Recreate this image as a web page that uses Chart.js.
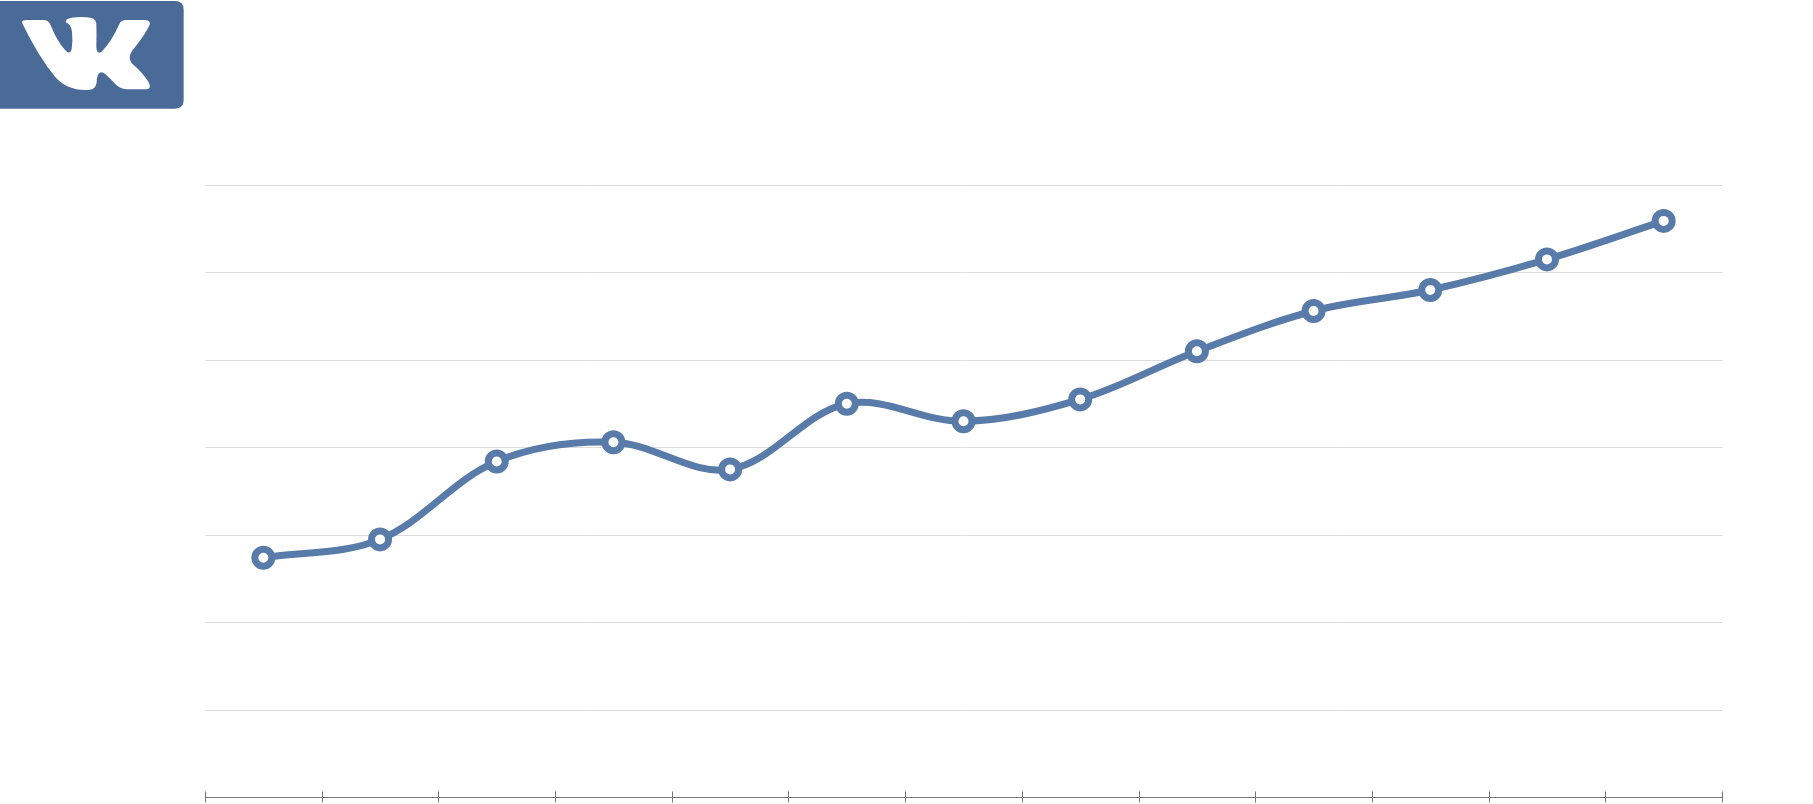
<!DOCTYPE html>
<html>
<head>
<meta charset="utf-8">
<style>
html, body { margin: 0; padding: 0; background: #fff; overflow: hidden; height: 804px; }
/* taller than the page: Chart.js keeps room at the bottom for the point size */
#wrap { position: absolute; left: 0; top: 0; width: 1813px; height: 813px; }
#logo { position: absolute; left: 0; top: 0; }
</style>
</head>
<body>
<div id="wrap"><canvas id="vk_chart"></canvas></div>
<svg id="logo" width="220" height="130" viewBox="0 0 660 390">
  <path fill="#4a6b98" d="M-30 3H525Q551 3 551 29V300Q551 326 525 326H-30Z"/>
  <path fill="#fff" d="M65 66Q68 60 80 60H130Q146 60 152 76Q170 122 195 150Q210 166 215 148Q219 125 216 95Q213 72 197 67Q195 57 215 53Q250 48 275 54Q288 58 289 72Q290 105 289 140Q290 165 305 155Q335 125 358 72Q363 60 378 60H435Q452 60 449 74Q435 105 398 150Q382 172 395 190Q425 215 445 245Q458 268 435 268H380Q358 268 340 246Q322 226 310 218Q295 212 291 235Q291 268 270 269Q205 275 165 230Q115 170 65 66Z"/>
</svg>
<script src="https://cdn.jsdelivr.net/npm/chart.js@4"></script>
<script>
const categories = ['1', '2', '3', '4', '5', '6', '7', '8', '9', '10', '11', '12', '13'];
const seriesValues = [27.4, 29.5, 38.4, 40.6, 37.5, 45, 43, 45.5, 51, 55.6, 58, 61.5, 65.9];

const lineBlue = '#587baa';

// x axis ticks cross the axis line, so they are drawn here
const crossTicks = {
    id: 'crossTicks',
    afterDatasetsDraw(chart) {
        const x = chart.scales.x;
        const y = chart.chartArea.bottom;
        const c = chart.ctx;
        const band = x.getPixelForValue(1) - x.getPixelForValue(0);
        c.save();
        c.strokeStyle = '#777';
        c.lineWidth = 1;
        c.beginPath();
        for (let i = 0; i <= categories.length; i++) {
            const px = Math.round(x.getPixelForValue(0) + band * (i - 0.5)) + 0.5;
            c.moveTo(px, y - 6);
            c.lineTo(px, y + 5);
        }
        c.stroke();
        c.restore();
    }
};

new Chart(document.getElementById('vk_chart'), {
    type: 'line',
    data: {
        labels: categories,
        datasets: [{
            data: seriesValues,
            borderColor: lineBlue,
            borderWidth: 7,
            tension: 0.35,
            pointRadius: 8.5,
            pointBorderWidth: 7,
            pointBorderColor: lineBlue,
            pointBackgroundColor: '#fff',
            fill: false
        }]
    },
    options: {
        responsive: true,
        maintainAspectRatio: false,
        animation: false,
        layout: { padding: { left: 205, right: 91, top: 185, bottom: 0 } },
        plugins: { legend: { display: false }, tooltip: { enabled: false } },
        scales: {
            x: {
                offset: true,
                afterFit(axis) { axis.height = 0; },
                ticks: { display: false },
                grid: { display: false },
                border: { color: '#777' }
            },
            y: {
                min: 0,
                max: 70,
                afterFit(axis) { axis.width = 0; },
                afterBuildTicks(axis) { axis.ticks = axis.ticks.filter(t => t.value > 0); },
                ticks: { display: false, stepSize: 10 },
                grid: { color: '#ddd', drawTicks: false },
                border: { display: false }
            }
        }
    },
    plugins: [crossTicks]
});
</script>
</body>
</html>
